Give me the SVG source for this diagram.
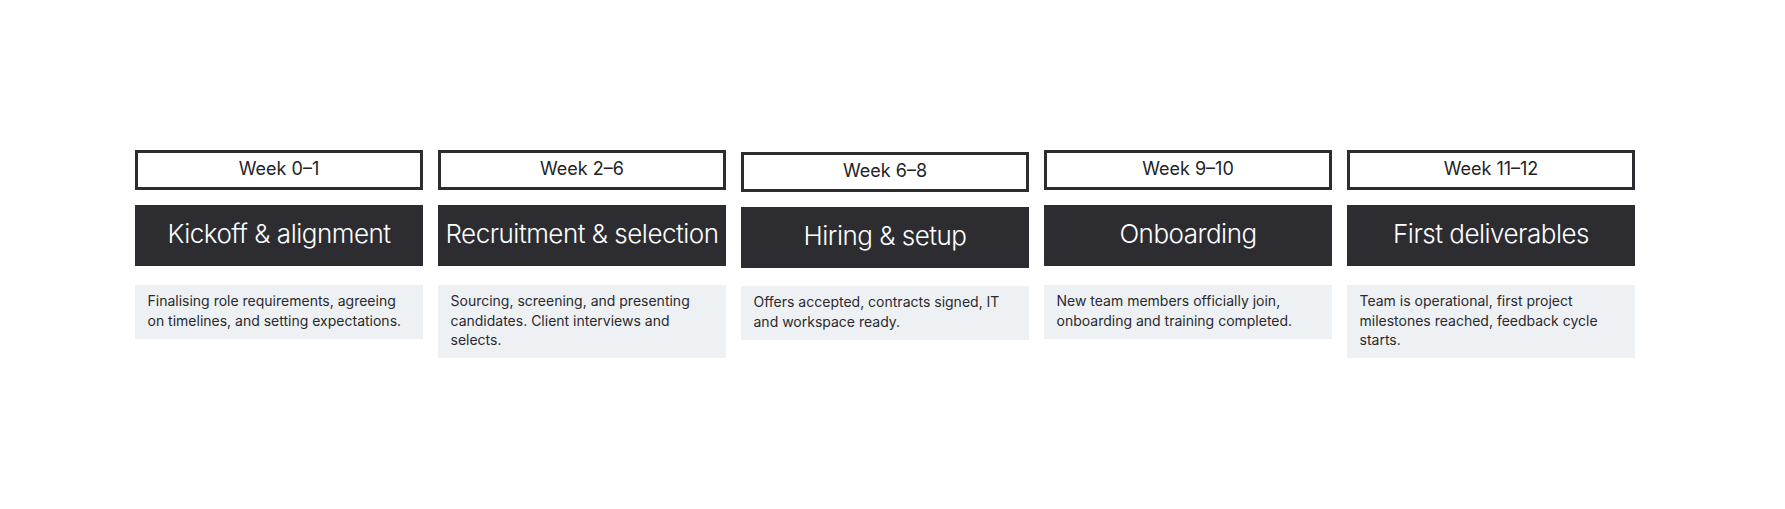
<svg xmlns="http://www.w3.org/2000/svg" width="1785" height="509" viewBox="0 0 1785 509">
<style>
.wk{fill:#ffffff;stroke:#2d2d31;stroke-width:3}
.wkt{font-family:Inter,"Liberation Sans",sans-serif;font-size:18px;fill:#222226;text-anchor:middle}
.ttl{fill:#2d2d31}
.ttt{font-family:Inter,"Liberation Sans",sans-serif;font-size:26px;font-weight:300;fill:#ffffff;text-anchor:middle;letter-spacing:-0.5px}
.dsc{fill:#eef1f4}
.dst{font-family:Inter,"Liberation Sans",sans-serif;font-size:14px;fill:#2a2a2e}
</style>
<rect width="1785" height="509" fill="#ffffff"/>
<g id="phase1">
<rect class="wk" x="136.5" y="151.5" width="285" height="37"/>
<text class="wkt" x="279" y="175">Week 0–1</text>
<rect class="ttl" x="135" y="205" width="288" height="61"/>
<text class="ttt" x="279" y="243">Kickoff &amp; alignment</text>
<rect class="dsc" x="135" y="285" width="288" height="54"/>
<text class="dst" x="147.5" y="306"><tspan x="147.5">Finalising role requirements, agreeing</tspan><tspan x="147.5" dy="19.5">on timelines, and setting expectations.</tspan></text>
</g>
<g id="phase2">
<rect class="wk" x="439.5" y="151.5" width="285" height="37"/>
<text class="wkt" x="582" y="175">Week 2–6</text>
<rect class="ttl" x="438" y="205" width="288" height="61"/>
<text class="ttt" x="582" y="243">Recruitment &amp; selection</text>
<rect class="dsc" x="438" y="285" width="288" height="73"/>
<text class="dst" x="450.5" y="306"><tspan x="450.5">Sourcing, screening, and presenting</tspan><tspan x="450.5" dy="19.5">candidates. Client interviews and</tspan><tspan x="450.5" dy="19.5">selects.</tspan></text>
</g>
<g id="phase3">
<rect class="wk" x="742.5" y="153.5" width="285" height="37"/>
<text class="wkt" x="885" y="177">Week 6–8</text>
<rect class="ttl" x="741" y="207" width="288" height="61"/>
<text class="ttt" x="885" y="245">Hiring &amp; setup</text>
<rect class="dsc" x="741" y="286" width="288" height="54"/>
<text class="dst" x="753.5" y="307"><tspan x="753.5">Offers accepted, contracts signed, IT</tspan><tspan x="753.5" dy="19.5">and workspace ready.</tspan></text>
</g>
<g id="phase4">
<rect class="wk" x="1045.5" y="151.5" width="285" height="37"/>
<text class="wkt" x="1188" y="175">Week 9–10</text>
<rect class="ttl" x="1044" y="205" width="288" height="61"/>
<text class="ttt" x="1188" y="243">Onboarding</text>
<rect class="dsc" x="1044" y="285" width="288" height="54"/>
<text class="dst" x="1056.5" y="306"><tspan x="1056.5">New team members officially join,</tspan><tspan x="1056.5" dy="19.5">onboarding and training completed.</tspan></text>
</g>
<g id="phase5">
<rect class="wk" x="1348.5" y="151.5" width="285" height="37"/>
<text class="wkt" x="1491" y="175">Week 11–12</text>
<rect class="ttl" x="1347" y="205" width="288" height="61"/>
<text class="ttt" x="1491" y="243">First deliverables</text>
<rect class="dsc" x="1347" y="285" width="288" height="73"/>
<text class="dst" x="1359.5" y="306"><tspan x="1359.5">Team is operational, first project</tspan><tspan x="1359.5" dy="19.5">milestones reached, feedback cycle</tspan><tspan x="1359.5" dy="19.5">starts.</tspan></text>
</g>
<g id="connectors"/>
</svg>
